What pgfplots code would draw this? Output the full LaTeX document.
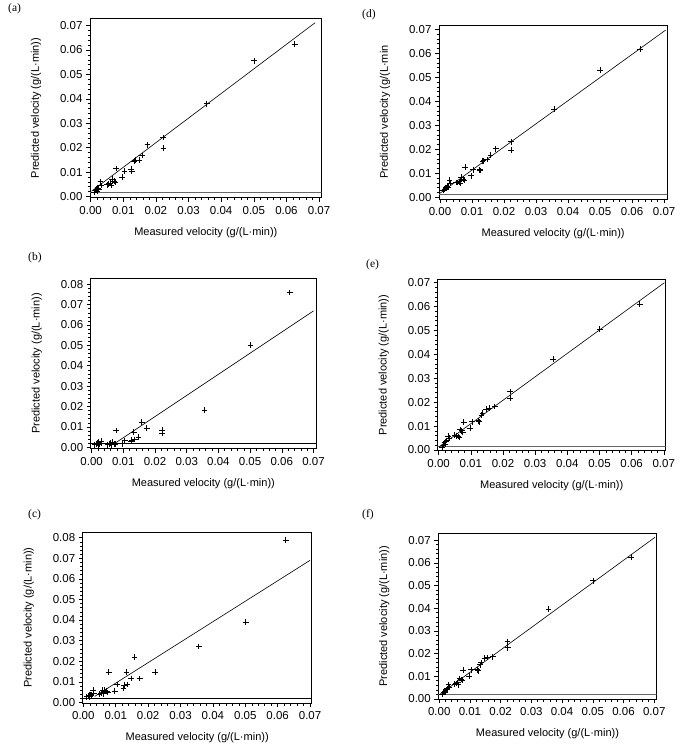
\documentclass[border=0pt]{standalone}
\usepackage{pgfplots}
\usepackage{pgfplotstable}
\pgfplotsset{compat=1.18}
\usepackage{fontspec}
\setmainfont{Liberation Sans}
\newfontfamily\paneltag{Liberation Serif}

% measured velocity (x) and predicted velocity of the six models (a)-(f)
\pgfplotstableread{
x      ya     yb     yc     yd     ye     yf
0.0010 0.0018 0.0012 0.0028 0.0030 0.0012 0.0020
0.0015 0.0025 0.0015 0.0030 0.0035 0.0020 0.0028
0.0018 0.0030 0.0020 0.0035 0.0040 0.0030 0.0035
0.0020 0.0022 0.0013 0.0028 0.0038 0.0025 0.0030
0.0022 0.0035 0.0025 0.0038 0.0045 0.0035 0.0040
0.0025 0.0030 0.0018 0.0035 0.0042 0.0040 0.0045
0.0030 0.0060 0.0030 0.0060 0.0072 0.0058 0.0063
0.0032 0.0045 0.0020 0.0045 0.0058 0.0050 0.0052
0.0050 0.0048 0.0013 0.0040 0.0062 0.0062 0.0066
0.0055 0.0052 0.0016 0.0045 0.0062 0.0060 0.0068
0.0060 0.0055 0.0020 0.0060 0.0065 0.0056 0.0072
0.0063 0.0045 0.0013 0.0042 0.0060 0.0052 0.0062
0.0066 0.0070 0.0025 0.0060 0.0085 0.0085 0.0090
0.0072 0.0062 0.0018 0.0055 0.0075 0.0080 0.0085
0.0075 0.0058 0.0015 0.0048 0.0072 0.0075 0.0082
0.0078 0.0115 0.0082 0.0147 0.0125 0.0116 0.0126
0.0097 0.0080 0.0018 0.0056 0.0090 0.0092 0.0101
0.0104 0.0105 0.0032 0.0087 0.0115 0.0118 0.0128
0.0124 0.0112 0.0028 0.0068 0.0115 0.0122 0.0128
0.0126 0.0102 0.0035 0.0084 0.0112 0.0118 0.0124
0.0133 0.0145 0.0075 0.0147 0.0150 0.0146 0.0150
0.0136 0.0148 0.0038 0.0087 0.0152 0.0155 0.0160
0.0148 0.0150 0.0050 0.0116 0.0158 0.0170 0.0179
0.0158 0.0168 0.0123 0.0219 0.0175 0.0175 0.0182
0.0174 0.0212 0.0093 0.0116 0.0202 0.0182 0.0186
0.0222 0.0242 0.0083 0.0147 0.0232 0.0244 0.0252
0.0223 0.0198 0.0070 0.0147 0.0197 0.0216 0.0226
0.0356 0.0380 0.0183 0.0271 0.0367 0.0379 0.0395
0.0501 0.0556 0.0502 0.0390 0.0530 0.0504 0.0521
0.0625 0.0625 0.0759 0.0789 0.0618 0.0610 0.0624
}\velo

\pgfplotsset{
  panel/.style={
    scale only axis, anchor=south west,
    axis line style={line width=0.6pt},
    tick align=outside, xtick pos=left, ytick pos=left,
    minor tick num=4, major tick length=4pt, minor tick length=2.5pt,
    every tick/.style={line width=0.5pt, black},
    xtick={0,0.01,0.02,0.03,0.04,0.05,0.06,0.07},
    scaled ticks=false,
    /pgf/number format/fixed, /pgf/number format/fixed zerofill,
    /pgf/number format/precision=2, /pgf/number format/assume math mode=true,
    tick label style={font=\fontsize{11.5}{13}\selectfont},
    label style={font=\fontsize{11}{13}\selectfont},
    xlabel={Measured velocity (g/(L·min))},
    ylabel={Predicted velocity (g/(L·min))},
    xticklabel style={yshift=-1pt},
    xlabel style={yshift=-6pt},
    ylabel style={yshift=12pt},
  },
  pts/.style={only marks, mark=+, mark size=2.9pt, black, mark options={line width=0.7pt}},
  fit/.style={black, line width=0.6pt},
  base/.style={gray!80!black, line width=0.9pt},
}

\begin{document}
\begin{tikzpicture}
\useasboundingbox (0,0) rectangle (685pt,-754pt);

% (a)
\begin{axis}[panel, at={(90pt,-197.7pt)}, width=231.7pt, height=179.4pt,
  xmin=-0.0002, xmax=0.0708, ymin=-0.0005, ymax=0.0730,
  ytick={0,0.01,0.02,0.03,0.04,0.05,0.06,0.07}]
  \addplot[base] coordinates {(-0.001,0.0018) (0.08,0.0018)};
  \addplot[fit] coordinates {(0.0003,0.0022) (0.0688,0.0712)};
  \addplot[pts] table[x=x, y=ya] {\velo};
\end{axis}

% (d)
\begin{axis}[panel, at={(439pt,-199pt)}, width=228.3pt, height=174pt,
  xmin=-0.0003, xmax=0.0710, ymin=-0.0007, ymax=0.0718,
  ytick={0,0.01,0.02,0.03,0.04,0.05,0.06,0.07},
  ylabel={Predicted velocity (g/(L·min}]
  \addplot[base] coordinates {(-0.001,0.0014) (0.08,0.0014)};
  \addplot[fit] coordinates {(0,0.0017) (0.0705,0.0697)};
  \addplot[pts] table[x=x, y=yd] {\velo};
\end{axis}

% (b)
\begin{axis}[panel, at={(90.7pt,-448.7pt)}, width=225.3pt, height=170.4pt,
  xmin=-0.0003, xmax=0.0708, ymin=-0.0007, ymax=0.0829,
  ytick={0,0.01,0.02,0.03,0.04,0.05,0.06,0.07,0.08}]
  \addplot[black, line width=0.7pt] coordinates {(-0.001,0.002) (0.08,0.002)};
  \addplot[fit] coordinates {(0.0074,0.0020) (0.0700,0.0669)};
  \addplot[pts] table[x=x, y=yb] {\velo};
\end{axis}

% (e)
\begin{axis}[panel, at={(437.7pt,-450.7pt)}, width=228pt, height=171.4pt,
  xmin=-0.0003, xmax=0.0706, ymin=-0.0003, ymax=0.0713,
  ytick={0,0.01,0.02,0.03,0.04,0.05,0.06,0.07}]
  \addplot[base] coordinates {(-0.001,0.0013) (0.08,0.0013)};
  \addplot[fit] coordinates {(0.0002,0.0014) (0.0702,0.0699)};
  \addplot[pts] table[x=x, y=ye] {\velo};
\end{axis}

% (c)
\begin{axis}[panel, at={(82.7pt,-703pt)}, width=229pt, height=170.7pt,
  xmin=-0.0002, xmax=0.0705, ymin=-0.0003, ymax=0.0826,
  ytick={0,0.01,0.02,0.03,0.04,0.05,0.06,0.07,0.08}]
  \addplot[black, line width=0.7pt] coordinates {(-0.001,0.0022) (0.08,0.0022)};
  \addplot[fit] coordinates {(0.0035,0.0029) (0.0700,0.0690)};
  \addplot[pts] table[x=x, y=yc] {\velo};
\end{axis}

% (f)
\begin{axis}[panel, at={(438.3pt,-699.3pt)}, width=218.4pt, height=166pt,
  xmin=-0.0003, xmax=0.0708, ymin=-0.0002, ymax=0.0730,
  ytick={0,0.01,0.02,0.03,0.04,0.05,0.06,0.07}]
  \addplot[base] coordinates {(-0.001,0.0018) (0.08,0.0018)};
  \addplot[fit] coordinates {(0,0.0018) (0.0702,0.0712)};
  \addplot[pts] table[x=x, y=yf] {\velo};
\end{axis}

\begin{scope}[every node/.style={anchor=west, inner sep=0pt, font=\paneltag\fontsize{11.5}{13}\selectfont}]
  \node at (8pt,-9pt) {(a)};
  \node at (362pt,-15pt) {(d)};
  \node at (28pt,-258pt) {(b)};
  \node at (366pt,-265pt) {(e)};
  \node at (28pt,-515pt) {(c)};
  \node at (362pt,-515pt) {(f)};
\end{scope}
\end{tikzpicture}
\end{document}
